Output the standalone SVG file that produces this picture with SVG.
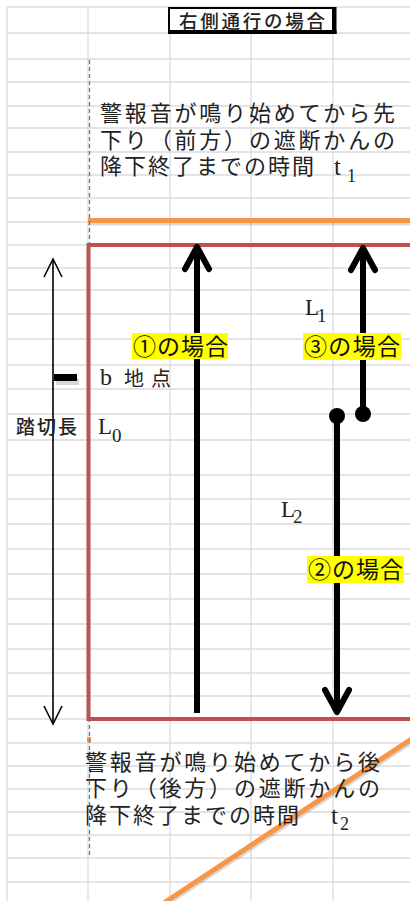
<svg xmlns="http://www.w3.org/2000/svg" width="410" height="901" viewBox="0 0 410 901">
<style>
.grid{fill:none;stroke:#dcdcdc;stroke-width:1.3}
.jp{font-family:"Noto Sans CJK JP","Noto Sans",sans-serif;fill:#222}
.blk{font-size:22px}
.lab{font-size:23px;fill:#111}
.ser{font-family:"Liberation Serif","DejaVu Serif",serif;fill:#222}
.yel{fill:#ffff00}
.thick{fill:none;stroke:#000;stroke-width:6}
.thin{fill:none;stroke:#000;stroke-width:1.6}
.orange{stroke:#f79646;stroke-width:5;fill:none}
.shadow{stroke:#000;stroke-opacity:0.15;stroke-width:3;fill:none}
</style>
<defs>
<marker id="ahThick" markerUnits="userSpaceOnUse" viewBox="-30 -16 36 32" refX="0" refY="0" markerWidth="36" markerHeight="32" orient="auto" overflow="visible">
<path d="M-22,-12 L0,0 L-22,12" fill="none" stroke="#000" stroke-width="6" stroke-linejoin="round" stroke-linecap="round"/>
</marker>
<marker id="ahThin" markerUnits="userSpaceOnUse" viewBox="-20 -10 22 20" refX="0" refY="0" markerWidth="22" markerHeight="20" orient="auto-start-reverse" overflow="visible">
<path d="M-18,-9 L0,0 L-18,9" fill="none" stroke="#000" stroke-width="1.6"/>
</marker>
<marker id="dot" markerUnits="userSpaceOnUse" viewBox="-9 -9 18 18" refX="0" refY="0" markerWidth="18" markerHeight="18" overflow="visible">
<circle cx="0" cy="0" r="8" fill="#000"/>
</marker>
</defs>
<rect width="410" height="901" fill="#fff"/>
<g id="grid">
<path class="grid" d="M7,7V901M88,7V901M170,7V901M251,7V901M333,7V901
M7,7H410M7,33H410M7,59H410M7,82H410M7,106H410M7,128H410M7,152H410M7,175H410M7,198H410M7,222H410M7,245H410M7,268H410M7,290H410M7,314H410M7,339H410M7,365H410M7,389H410M7,414H410M7,440H410M7,475H410M7,499H410M7,524H410M7,549H410M7,574H410M7,599H410M7,624H410M7,649H410M7,673H410M7,696H410M7,719H410M7,743H410M7,766H410M7,789H410M7,812H410M7,835H410M7,858H410M7,882H410"/>
</g>
<g id="title">
<rect x="169" y="8" width="165" height="24" fill="#fff" stroke="#000" stroke-width="2"/>
<rect x="332" y="7" width="4.5" height="27" fill="#000"/>
<rect x="168" y="30" width="168.5" height="4" fill="#000"/>
<text class="jp" x="179" y="27.5" font-size="18.5" textLength="146" lengthAdjust="spacing" fill="#000" font-weight="500">右側通行の場合</text>
</g>
<g id="t1-line">
<line class="shadow" x1="88" y1="224" x2="410" y2="224"/>
<line class="orange" x1="88" y1="220.5" x2="410" y2="220.5"/>
</g>
<g id="crossing-box">
<path d="M412,245H88.5V719H412" fill="none" stroke="#c0504d" stroke-width="4"/>
</g>
<g id="t2-line">
<line class="shadow" x1="162" y1="908" x2="416" y2="740"/>
<line class="orange" x1="160" y1="905.6" x2="415" y2="736.7"/>
<rect x="87" y="737" width="4" height="5" fill="#f79646"/>
</g>
<g id="axis">
<line x1="89.5" y1="60" x2="89.5" y2="858" stroke="#4a7ebb" stroke-width="1.3" stroke-dasharray="4 3"/>
</g>
<g id="connectors">
<line class="thin" x1="53" y1="259" x2="53" y2="724" marker-start="url(#ahThin)" marker-end="url(#ahThin)"/>
<line class="thick" x1="197" y1="713" x2="197" y2="247" marker-end="url(#ahThick)"/>
<line class="thick" x1="363" y1="414" x2="363" y2="248" marker-start="url(#dot)" marker-end="url(#ahThick)"/>
<line class="thick" x1="337" y1="416" x2="337" y2="712" marker-start="url(#dot)" marker-end="url(#ahThick)"/>
</g>
<g id="b-point">
<rect x="56" y="379" width="23" height="6" fill="#000" fill-opacity="0.15"/>
<rect x="54" y="374" width="23" height="7" fill="#000"/>
<text class="ser" x="100" y="385" font-size="24">b</text>
<text class="jp" x="124" y="386" font-size="20" textLength="47" lengthAdjust="spacing">地点</text>
</g>
<g id="crossing-length">
<text class="jp" x="16" y="434" font-size="19" textLength="61" lengthAdjust="spacing" font-weight="500" fill="#222">踏切長</text>
</g>
<g id="L0">
<text class="ser" x="98" y="434" font-size="23">L<tspan x="112" y="442" font-size="19">0</tspan></text>
</g>
<g id="L1">
<text class="ser" x="305" y="315" font-size="23">L<tspan x="317" y="322" font-size="19">1</tspan></text>
</g>
<g id="L2">
<text class="ser" x="281" y="517" font-size="23">L<tspan x="293" y="523" font-size="19">2</tspan></text>
</g>
<g id="case1">
<rect class="yel" x="132" y="333" width="96" height="26"/>
<text class="jp lab" x="133" y="355" textLength="95" lengthAdjust="spacing">①の場合</text>
</g>
<g id="case3">
<rect class="yel" x="303" y="333" width="98" height="27"/>
<text class="jp lab" x="304" y="355" textLength="96" lengthAdjust="spacing">③の場合</text>
</g>
<g id="case2">
<rect class="yel" x="307" y="556" width="97" height="27"/>
<text class="jp lab" x="308" y="578" textLength="95" lengthAdjust="spacing">②の場合</text>
</g>
<g id="text-t1">
<text class="jp blk" x="100" y="121" textLength="295" lengthAdjust="spacing">警報音が鳴り始めてから先</text>
<text class="jp blk" x="100" y="148" textLength="295" lengthAdjust="spacing">下り（前方）の遮断かんの</text>
<text class="jp blk" x="100" y="174" textLength="214" lengthAdjust="spacing">降下終了までの時間</text>
<text class="ser" x="334" y="175" font-size="25">t<tspan x="347" y="182" font-size="18">1</tspan></text>
</g>
<g id="text-t2">
<text class="jp blk" x="85" y="770" textLength="295" lengthAdjust="spacing">警報音が鳴り始めてから後</text>
<text class="jp blk" x="85" y="796" textLength="295" lengthAdjust="spacing">下り（後方）の遮断かんの</text>
<text class="jp blk" x="85" y="823" textLength="214" lengthAdjust="spacing">降下終了までの時間</text>
<text class="ser" x="331" y="824" font-size="25">t<tspan x="340" y="830" font-size="18">2</tspan></text>
</g>
</svg>
